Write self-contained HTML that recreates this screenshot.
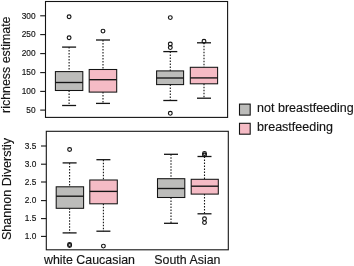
<!DOCTYPE html>
<html><head><meta charset="utf-8"><style>
html,body{margin:0;padding:0;background:#fff;}
body{width:354px;height:266px;overflow:hidden;}
svg{display:block;will-change:transform;font-family:"Liberation Sans",sans-serif;fill:#1a1a1a;}
svg text{fill:#141414;stroke:#141414;stroke-width:0.15px;}
</style></head><body>
<svg width="354" height="266" viewBox="0 0 354 266">
<rect x="0" y="0" width="354" height="266" fill="#fff"/>
<rect x="45.5" y="1.5" width="182.10" height="115.90" fill="none" stroke="#141414" stroke-width="1.1"/>
<line x1="40.20" y1="15.8" x2="45.5" y2="15.8" stroke="#141414" stroke-width="1.1"/>
<text x="35.50" y="18.60" text-anchor="end" font-size="8.3">300</text>
<line x1="40.20" y1="34.6" x2="45.5" y2="34.6" stroke="#141414" stroke-width="1.1"/>
<text x="35.50" y="37.40" text-anchor="end" font-size="8.3">250</text>
<line x1="40.20" y1="53.6" x2="45.5" y2="53.6" stroke="#141414" stroke-width="1.1"/>
<text x="35.50" y="56.40" text-anchor="end" font-size="8.3">200</text>
<line x1="40.20" y1="72.6" x2="45.5" y2="72.6" stroke="#141414" stroke-width="1.1"/>
<text x="35.50" y="75.40" text-anchor="end" font-size="8.3">150</text>
<line x1="40.20" y1="91.4" x2="45.5" y2="91.4" stroke="#141414" stroke-width="1.1"/>
<text x="35.50" y="94.20" text-anchor="end" font-size="8.3">100</text>
<line x1="40.20" y1="110.1" x2="45.5" y2="110.1" stroke="#141414" stroke-width="1.1"/>
<text x="35.50" y="112.90" text-anchor="end" font-size="8.3">50</text>
<line x1="69.1" y1="47.1" x2="69.1" y2="71.6" stroke="#141414" stroke-width="1.1" stroke-dasharray="1.5 1.5"/>
<line x1="69.1" y1="90.5" x2="69.1" y2="105.5" stroke="#141414" stroke-width="1.1" stroke-dasharray="1.5 1.5"/>
<line x1="62.10" y1="47.1" x2="76.10" y2="47.1" stroke="#141414" stroke-width="1.3"/>
<line x1="62.10" y1="105.5" x2="76.10" y2="105.5" stroke="#141414" stroke-width="1.3"/>
<rect x="55.4" y="71.6" width="27.40" height="18.90" fill="#bcbcba" stroke="#141414" stroke-width="1.05"/>
<line x1="55.4" y1="82.5" x2="82.8" y2="82.5" stroke="#141414" stroke-width="1.35"/>
<circle cx="69.1" cy="16.75" r="1.9" fill="none" stroke="#141414" stroke-width="1.15"/>
<circle cx="69.1" cy="37.7" r="1.9" fill="none" stroke="#141414" stroke-width="1.15"/>
<line x1="103.0" y1="40.0" x2="103.0" y2="69.5" stroke="#141414" stroke-width="1.1" stroke-dasharray="1.5 1.5"/>
<line x1="103.0" y1="92.1" x2="103.0" y2="103.4" stroke="#141414" stroke-width="1.1" stroke-dasharray="1.5 1.5"/>
<line x1="96.00" y1="40.0" x2="110.00" y2="40.0" stroke="#141414" stroke-width="1.3"/>
<line x1="96.00" y1="103.4" x2="110.00" y2="103.4" stroke="#141414" stroke-width="1.3"/>
<rect x="89.2" y="69.5" width="27.50" height="22.60" fill="#f5bbc5" stroke="#141414" stroke-width="1.05"/>
<line x1="89.2" y1="79.7" x2="116.7" y2="79.7" stroke="#141414" stroke-width="1.35"/>
<circle cx="103.0" cy="31.1" r="1.9" fill="none" stroke="#141414" stroke-width="1.15"/>
<line x1="170.3" y1="51.6" x2="170.3" y2="70.9" stroke="#141414" stroke-width="1.1" stroke-dasharray="1.5 1.5"/>
<line x1="170.3" y1="84.6" x2="170.3" y2="100.5" stroke="#141414" stroke-width="1.1" stroke-dasharray="1.5 1.5"/>
<line x1="163.30" y1="51.6" x2="177.30" y2="51.6" stroke="#141414" stroke-width="1.3"/>
<line x1="163.30" y1="100.5" x2="177.30" y2="100.5" stroke="#141414" stroke-width="1.3"/>
<rect x="156.6" y="70.9" width="27.00" height="13.70" fill="#bcbcba" stroke="#141414" stroke-width="1.05"/>
<line x1="156.6" y1="78.0" x2="183.6" y2="78.0" stroke="#141414" stroke-width="1.35"/>
<circle cx="170.3" cy="17.6" r="1.9" fill="none" stroke="#141414" stroke-width="1.15"/>
<circle cx="170.3" cy="44" r="1.9" fill="none" stroke="#141414" stroke-width="1.15"/>
<circle cx="170.3" cy="47.6" r="1.9" fill="none" stroke="#141414" stroke-width="1.15"/>
<circle cx="170.3" cy="113.3" r="1.9" fill="none" stroke="#141414" stroke-width="1.15"/>
<line x1="204.0" y1="42.8" x2="204.0" y2="67.3" stroke="#141414" stroke-width="1.1" stroke-dasharray="1.5 1.5"/>
<line x1="204.0" y1="83.8" x2="204.0" y2="98.2" stroke="#141414" stroke-width="1.1" stroke-dasharray="1.5 1.5"/>
<line x1="197.00" y1="42.8" x2="211.00" y2="42.8" stroke="#141414" stroke-width="1.3"/>
<line x1="197.00" y1="98.2" x2="211.00" y2="98.2" stroke="#141414" stroke-width="1.3"/>
<rect x="190.3" y="67.3" width="27.30" height="16.50" fill="#f5bbc5" stroke="#141414" stroke-width="1.05"/>
<line x1="190.3" y1="77.9" x2="217.6" y2="77.9" stroke="#141414" stroke-width="1.35"/>
<circle cx="204.0" cy="41.2" r="1.9" fill="none" stroke="#141414" stroke-width="1.15"/>
<rect x="46.3" y="131.3" width="182.00" height="118.50" fill="none" stroke="#141414" stroke-width="1.1"/>
<line x1="41.00" y1="146" x2="46.3" y2="146" stroke="#141414" stroke-width="1.1"/>
<text x="36.30" y="148.80" text-anchor="end" font-size="8.3">3.5</text>
<line x1="41.00" y1="164.2" x2="46.3" y2="164.2" stroke="#141414" stroke-width="1.1"/>
<text x="36.30" y="167.00" text-anchor="end" font-size="8.3">3.0</text>
<line x1="41.00" y1="182" x2="46.3" y2="182" stroke="#141414" stroke-width="1.1"/>
<text x="36.30" y="184.80" text-anchor="end" font-size="8.3">2.5</text>
<line x1="41.00" y1="200.6" x2="46.3" y2="200.6" stroke="#141414" stroke-width="1.1"/>
<text x="36.30" y="203.40" text-anchor="end" font-size="8.3">2.0</text>
<line x1="41.00" y1="218.6" x2="46.3" y2="218.6" stroke="#141414" stroke-width="1.1"/>
<text x="36.30" y="221.40" text-anchor="end" font-size="8.3">1.5</text>
<line x1="41.00" y1="236.4" x2="46.3" y2="236.4" stroke="#141414" stroke-width="1.1"/>
<text x="36.30" y="239.20" text-anchor="end" font-size="8.3">1.0</text>
<line x1="69.6" y1="162.9" x2="69.6" y2="186.8" stroke="#141414" stroke-width="1.1" stroke-dasharray="1.5 1.5"/>
<line x1="69.6" y1="208.3" x2="69.6" y2="232.9" stroke="#141414" stroke-width="1.1" stroke-dasharray="1.5 1.5"/>
<line x1="62.60" y1="162.9" x2="76.60" y2="162.9" stroke="#141414" stroke-width="1.3"/>
<line x1="62.60" y1="232.9" x2="76.60" y2="232.9" stroke="#141414" stroke-width="1.3"/>
<rect x="56.2" y="186.8" width="27.40" height="21.50" fill="#bcbcba" stroke="#141414" stroke-width="1.05"/>
<line x1="56.2" y1="196.2" x2="83.6" y2="196.2" stroke="#141414" stroke-width="1.35"/>
<circle cx="69.6" cy="149.5" r="1.9" fill="none" stroke="#141414" stroke-width="1.15"/>
<circle cx="69.6" cy="244.5" r="1.9" fill="none" stroke="#141414" stroke-width="1.15"/>
<circle cx="69.6" cy="245.5" r="1.9" fill="none" stroke="#141414" stroke-width="1.15"/>
<line x1="103.4" y1="159.7" x2="103.4" y2="180.0" stroke="#141414" stroke-width="1.1" stroke-dasharray="1.5 1.5"/>
<line x1="103.4" y1="203.8" x2="103.4" y2="231.2" stroke="#141414" stroke-width="1.1" stroke-dasharray="1.5 1.5"/>
<line x1="96.40" y1="159.7" x2="110.40" y2="159.7" stroke="#141414" stroke-width="1.3"/>
<line x1="96.40" y1="231.2" x2="110.40" y2="231.2" stroke="#141414" stroke-width="1.3"/>
<rect x="89.8" y="180.0" width="27.50" height="23.80" fill="#f5bbc5" stroke="#141414" stroke-width="1.05"/>
<line x1="89.8" y1="191.4" x2="117.3" y2="191.4" stroke="#141414" stroke-width="1.35"/>
<circle cx="103.4" cy="246.1" r="1.9" fill="none" stroke="#141414" stroke-width="1.15"/>
<line x1="171.0" y1="154.3" x2="171.0" y2="178.7" stroke="#141414" stroke-width="1.1" stroke-dasharray="1.5 1.5"/>
<line x1="171.0" y1="197.5" x2="171.0" y2="223.3" stroke="#141414" stroke-width="1.1" stroke-dasharray="1.5 1.5"/>
<line x1="164.00" y1="154.3" x2="178.00" y2="154.3" stroke="#141414" stroke-width="1.3"/>
<line x1="164.00" y1="223.3" x2="178.00" y2="223.3" stroke="#141414" stroke-width="1.3"/>
<rect x="157.5" y="178.7" width="27.30" height="18.80" fill="#bcbcba" stroke="#141414" stroke-width="1.05"/>
<line x1="157.5" y1="188.5" x2="184.8" y2="188.5" stroke="#141414" stroke-width="1.35"/>
<line x1="204.5" y1="156.5" x2="204.5" y2="179.3" stroke="#141414" stroke-width="1.1" stroke-dasharray="1.5 1.5"/>
<line x1="204.5" y1="194.1" x2="204.5" y2="213.8" stroke="#141414" stroke-width="1.1" stroke-dasharray="1.5 1.5"/>
<line x1="197.50" y1="156.5" x2="211.50" y2="156.5" stroke="#141414" stroke-width="1.3"/>
<line x1="197.50" y1="213.8" x2="211.50" y2="213.8" stroke="#141414" stroke-width="1.3"/>
<rect x="191.2" y="179.3" width="27.10" height="14.80" fill="#f5bbc5" stroke="#141414" stroke-width="1.05"/>
<line x1="191.2" y1="186.2" x2="218.3" y2="186.2" stroke="#141414" stroke-width="1.35"/>
<circle cx="204.5" cy="153.5" r="1.9" fill="none" stroke="#141414" stroke-width="1.15"/>
<circle cx="204.5" cy="155" r="1.9" fill="none" stroke="#141414" stroke-width="1.15"/>
<circle cx="204.5" cy="218.8" r="1.9" fill="none" stroke="#141414" stroke-width="1.15"/>
<circle cx="204.5" cy="222.6" r="1.9" fill="none" stroke="#141414" stroke-width="1.15"/>
<text transform="translate(10.1,64.7) rotate(-90)" text-anchor="middle" font-size="12.4">richness estimate</text>
<text transform="translate(10.8,189) rotate(-90)" text-anchor="middle" font-size="12.6">Shannon Diverstiy</text>
<text x="44" y="264.1" font-size="12.4">white Caucasian</text>
<text x="154.3" y="264.4" font-size="12.4">South Asian</text>
<rect x="239.5" y="104.1" width="10.7" height="11" fill="#bcbcba" stroke="#141414" stroke-width="1.1"/>
<rect x="239.5" y="123.3" width="10.7" height="10.9" fill="#f5bbc5" stroke="#141414" stroke-width="1.1"/>
<text x="257.1" y="112.1" font-size="12.5">not breastfeeding</text>
<text x="257.1" y="131.1" font-size="12.5">breastfeeding</text>
</svg>
</body></html>
